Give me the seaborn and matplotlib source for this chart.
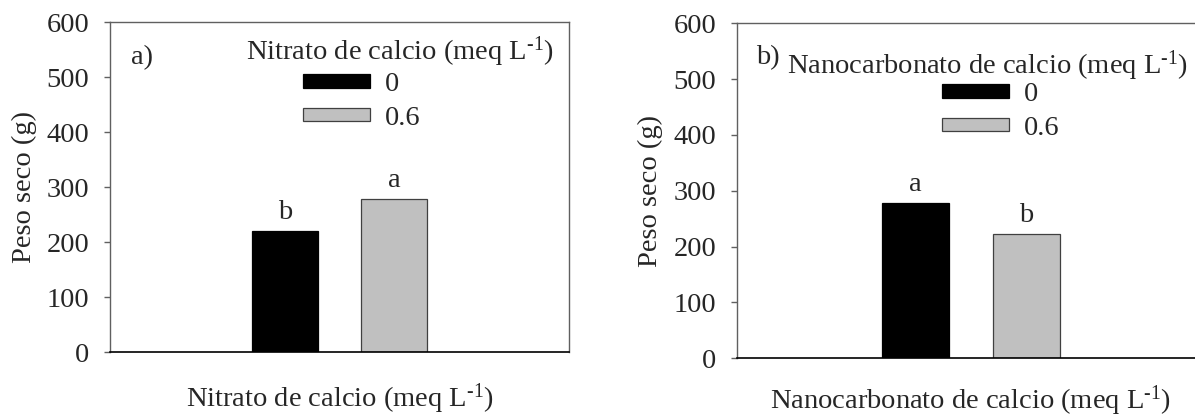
import matplotlib
matplotlib.use("Agg")
import matplotlib.pyplot as plt
from matplotlib.patches import Patch
import seaborn as sns
import pandas as pd

# Data
doses = ["0", "0.6"]
nitrato_peso = [220, 279]
nitrato_letras = ["b", "a"]
nano_peso = [278, 223]
nano_letras = ["a", "b"]
yticks = [0, 100, 200, 300, 400, 500, 600]
bar_colors = ["#000000", "#c0c0c0"]
edge_colors = ["#000000", "#404040"]

sns.set_style("white")
plt.rcParams["font.family"] = ["Liberation Serif", "DejaVu Serif"]
plt.rcParams["mathtext.fontset"] = "custom"
plt.rcParams["mathtext.rm"] = "Liberation Serif"
plt.rcParams["mathtext.it"] = "Liberation Serif:italic"
plt.rcParams["mathtext.bf"] = "Liberation Serif:bold"

W, H = 1195, 416
fig = plt.figure(figsize=(W / 100, H / 100), dpi=100)

FS = 20.5
TICK_FS = 20.5


def px_axes(left, right, top, bottom):
    return [left / W, (H - bottom) / H, (right - left) / W, (bottom - top) / H]


def panel(ax, values, letters, nombre, tag, tag_xy, title_xy, leg_xy, xlab_y, show_right):
    df = pd.DataFrame({"grupo": [""] * len(doses), "dosis": doses, "peso": values})
    sns.barplot(data=df, x="grupo", y="peso", hue="dosis", palette=bar_colors,
                width=0.475, gap=0.395, ax=ax, legend=False, saturation=1,
                linewidth=0.9)
    for cont, ec in zip(ax.containers, edge_colors):
        for bar in cont:
            bar.set_edgecolor(ec)
    for cont, letter in zip(ax.containers, letters):
        bar = cont[0]
        ax.annotate(letter, (bar.get_x() + bar.get_width() / 2, bar.get_height()),
                    xytext=(0, 8.5), textcoords="offset points",
                    ha="center", va="baseline", fontsize=FS)
    ax.set_xlim(-0.5, 0.5)
    ax.set_ylim(0, 600)
    ax.set_yticks(yticks)
    ax.set_yticklabels([str(t) for t in yticks], fontsize=TICK_FS)
    ax.set_xticks([])
    ax.tick_params(axis="y", left=True, length=4, width=1, color="#606060", pad=11)
    for side in ["left", "top", "right"]:
        ax.spines[side].set_color("#606060")
        ax.spines[side].set_linewidth(1.0)
    ax.spines["right"].set_visible(show_right)
    ax.spines["bottom"].set_color("#000000")
    ax.spines["bottom"].set_linewidth(1.2)

    label = nombre + " (meq L$^{\u2010\\mathrm{1}}$)"
    ax.set_xlabel(label, fontsize=FS, va="baseline")
    ax.xaxis.set_label_coords(0.5, xlab_y)
    ax.set_ylabel("Peso seco (g)", fontsize=FS)
    ax.yaxis.set_label_coords(-0.159, 0.5)

    ax.text(*tag_xy, tag, transform=ax.transAxes, fontsize=FS, ha="left", va="baseline")
    ax.text(*title_xy, label, transform=ax.transAxes, fontsize=FS, ha="left", va="baseline")
    handles = [Patch(facecolor=c, edgecolor=e, linewidth=0.9) for c, e in zip(bar_colors, edge_colors)]
    ax.legend(handles, doses, loc="upper left", bbox_to_anchor=leg_xy, frameon=False,
              fontsize=FS, borderpad=0, borderaxespad=0, handlelength=2.34,
              handleheight=0.36, handletextpad=0.55, labelspacing=0.31)


ax1 = fig.add_axes(px_axes(110, 569, 22.3, 352.3))
panel(ax1, nitrato_peso, nitrato_letras, "Nitrato de calcio", "a)",
      (0.0458, 0.8736), (0.2963, 0.8858), (0.4205, 0.8494), -0.1636, True)

ax2 = fig.add_axes(px_axes(737, 1205, 23.3, 358.3))
panel(ax2, nano_peso, nano_letras, "Nanocarbonato de calcio", "b)",
      (0.0406, 0.8785), (0.1068, 0.8487), (0.438, 0.8247), -0.149, False)

fig.savefig("out.png", dpi=100)
